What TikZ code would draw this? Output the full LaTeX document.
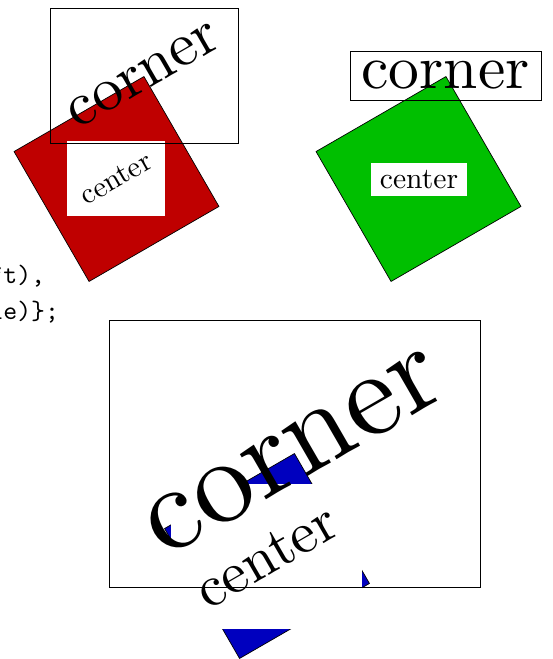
\documentclass[tikz,border=0pt]{standalone}
\usepackage{graphicx}
\newcommand\cornertxt{\scalebox{6.16}{\normalsize corner}}
\newcommand\centertxt{\scalebox{2.96}{\normalsize center}}
\newcommand\bigcornertxt{\scalebox{12.1}{\normalsize corner}}
\newcommand\bigcentertxt{\scalebox{5.85}{\normalsize center}}
\newcommand\codetxt[1]{\scalebox{2.65}{\normalsize\ttfamily #1}}
\tikzset{
  sq/.style={draw=black, line width=0.7pt, minimum size=150pt, inner sep=0pt, rotate=30},
  whitebox/.style={fill=white, inner sep=0pt},
  cornerbox/.style={draw=black, line width=0.7pt, inner sep=0pt},
  codetext/.style={anchor=base west, inner sep=0pt}
}
\begin{document}
\begin{tikzpicture}[x=1pt, y=-1pt]
\useasboundingbox (0,0) rectangle (552,659);
% code fragments at the left edge
\node[codetext] (code1) at (-10.7,283) {\codetxt{ft),}};
\node[codetext] (code2) at (-10.7,319) {\codetxt{le)\};}};
% left picture
\node[sq, fill=red!75!black] (redsq) at (116.5,179) {};
\node[whitebox, minimum width=98pt, minimum height=75pt] (lcenter) at (116,178.5) {\rotatebox{30}{\centertxt}};
\node[cornerbox, minimum width=188pt, minimum height=135pt] (lcorner) at (144,75.5) {\rotatebox{30}{\cornertxt}};
% right picture
\node[sq, fill=green!75!black] (greensq) at (418.5,179) {};
\node[whitebox, minimum width=96pt, minimum height=33pt] (rcenter) at (419,179.5) {\centertxt};
\node[cornerbox, minimum width=191pt, minimum height=49pt] (rcorner) at (445.5,75.5) {\cornertxt};
% bottom picture
\node[sq, fill=blue!75!black] (bluesq) at (267,556) {};
\node[whitebox, minimum width=191pt, minimum height=145pt] (bcenter) at (266.5,556.5) {\rotatebox{30}{\bigcentertxt}};
\node[cornerbox, minimum width=371pt, minimum height=267pt] (bcorner) at (294.5,453.5) {\rotatebox{30}{\bigcornertxt}};
\end{tikzpicture}
\end{document}
